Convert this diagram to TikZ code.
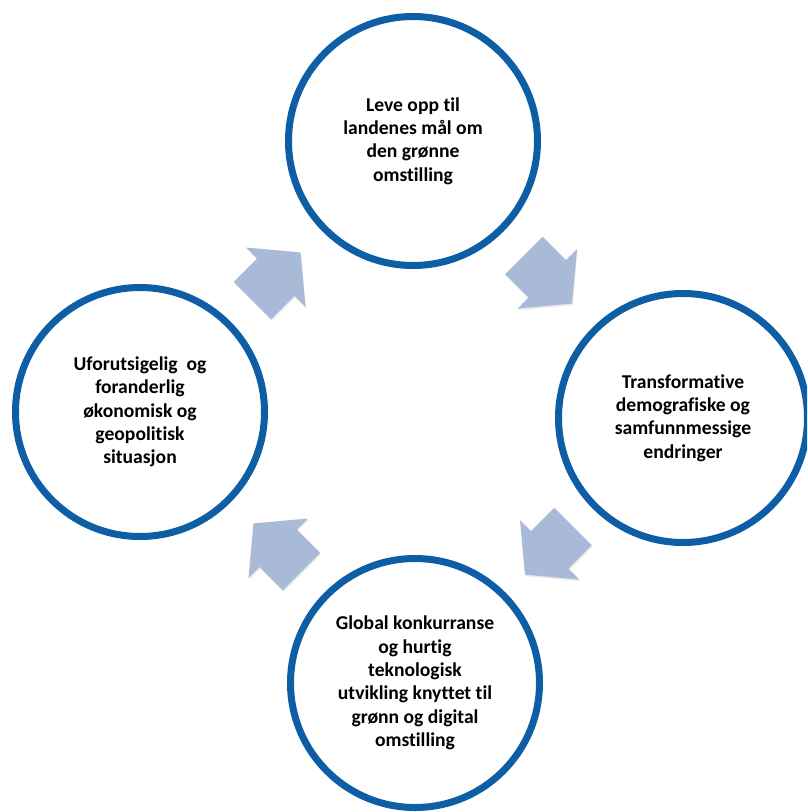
\documentclass[tikz,border=0pt]{standalone}
\usepackage{fontspec}
\setmainfont{Carlito}[Ligatures=NoCommon]
\usetikzlibrary{calc,shadows}

\definecolor{ringblue}{RGB}{14,94,165}
\definecolor{arrowblue}{RGB}{169,185,216}

\begin{document}
\begin{tikzpicture}[
                x=1pt, y=-1pt,
                CycleCircle/.style={circle, draw=ringblue, line width=7pt, fill=white,
                    minimum size=249pt, inner sep=0pt, align=center,
                    font=\fontsize{19.6}{23.3}\selectfont\bfseries},
                ArrowFill/.style={fill=arrowblue,
                    drop shadow={shadow xshift=0.6pt, shadow yshift=-1.6pt, opacity=0.18}},
                CycleArrow/.pic={
                    \fill[ArrowFill] (-34,-26.5) -- (-1,-26.5) -- (-1,-42) -- (34,0)
                        -- (-1,42) -- (-1,26.5) -- (-34,26.5) -- cycle;
                },
            ]
            \useasboundingbox (0,0) rectangle (807,812);
            \fill[white] (0,0) rectangle (807,812);
            \clip (0,0) rectangle (807,812);

            \node [CycleCircle] (top) at (413,141)
                {Leve opp til\\landenes mål om\\den grønne\\omstilling};
            \node [CycleCircle] (right) at (683,418)
                {Transformative\\demografiske og\\samfunnmessige\\endringer};
            \node [CycleCircle] (bottom) at (415,683)
                {Global konkurranse\\og hurtig\\teknologisk\\utvikling knyttet til\\grønn og digital\\omstilling};
            \node [CycleCircle] (left) at (140,412)
                {Uforutsigelig\ \ og\\foranderlig\\økonomisk og\\geopolitisk\\situasjon};

            % block arrows half way between the circles
            \pic [rotate=45]   at ($(left)!0.5!(top)$)    {CycleArrow};
            \pic [rotate=-45]  at ($(top)!0.5!(right)$)   {CycleArrow};
            \pic [rotate=-135] at ($(right)!0.5!(bottom)$) {CycleArrow};
            \pic [rotate=135]  at ($(bottom)!0.5!(left)$) {CycleArrow};
        \end{tikzpicture}
\end{document}
